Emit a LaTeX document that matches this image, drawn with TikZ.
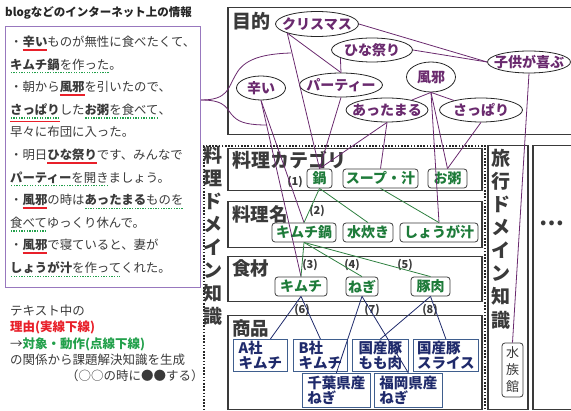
\documentclass[tikz,border=0pt]{standalone}
\usepackage{fontspec}
\setmainfont{Noto Sans CJK JP}
\usetikzlibrary{shapes.geometric,calc}
\definecolor{dk}{HTML}{3A3A3A}
\definecolor{pur}{HTML}{6A2A6E}
\definecolor{lav}{HTML}{9878BE}
\definecolor{grn}{HTML}{1E7B3A}
\definecolor{grnl}{HTML}{2E8040}
\definecolor{navy}{HTML}{1F2A6B}
\definecolor{nbord}{HTML}{3F5E8E}
\definecolor{ured}{HTML}{E8202A}
\definecolor{ugrn}{HTML}{22A04B}
\newcommand\ru[2][2.5pt]{\leavevmode\setbox0\hbox{#2}\rlap{\color{ured}\rule[\dimexpr-#1-1.5pt\relax]{\wd0}{1.5pt}}\box0}
\newcommand\gd[1]{\leavevmode\setbox0\hbox{#1}\rlap{\color{ugrn}\raisebox{-4.3pt}{\hbox to \wd0{\xleaders\hbox to 2.6pt{\hss\rule{1.3pt}{1.3pt}\hss}\hfill}}}\box0}
\begin{document}
\begin{tikzpicture}[x=1pt,y=-1pt,
  frm/.style={draw=dk, line width=1.5pt, inner sep=0pt, anchor=north west},
  ell/.style={ellipse, draw=black!85, line width=0.8pt, inner sep=0pt},
  elab/.style={text=pur, font=\bfseries\fontsize{14}{14}\selectfont, inner sep=0pt},
  gitem/.style={draw=dk, rounded corners=3pt, line width=0.8pt, text=grn, font=\bfseries\fontsize{14}{14}\selectfont, inner xsep=2pt, inner ysep=0pt, minimum height=19pt},
  nitem/.style={draw=nbord, line width=0.8pt, text=navy, font=\bfseries\fontsize{14.5}{15.5}\selectfont, align=left, inner xsep=3pt, inner ysep=0pt, anchor=north west},
  pl/.style={draw=pur, line width=0.8pt},
  gl/.style={draw=grnl, line width=0.8pt},
  nl/.style={draw=navy, line width=0.8pt},
  seclab/.style={anchor=west, text=dk, font=\bfseries\fontsize{19}{19}\selectfont, inner sep=0pt},
  numlab/.style={text=dk, font=\bfseries\fontsize{11}{11}\selectfont, inner sep=0pt},
  bl/.style={anchor=base west, inner sep=0pt, text=dk, font=\fontsize{12.4}{12.4}\selectfont},
  fn/.style={anchor=base west, inner sep=0pt, text=dk, font=\fontsize{12.5}{12.5}\selectfont},
]
\useasboundingbox (0,0) rectangle (571,411);
% ---------- left: blog text ----------
\node[anchor=west, inner sep=0pt, text=black!85, font=\bfseries\fontsize{11.5}{11.5}\selectfont] (title) at (5,13) {blogなどのインターネット上の情報};
\node[draw=lav, line width=1.2pt, anchor=north west, minimum width=195pt, minimum height=261pt, inner sep=0pt] (blogbox) at (5,26) {};
\node[bl] (l1) at (10,46.6) {・\ru{\textbf{辛い}}ものが無性に食べたくて、};
\node[bl] (l2) at (10,69.2) {\gd{\textbf{キムチ鍋}を作った}。};
\node[bl] (l3) at (10,91.8) {・朝から\ru{\textbf{風邪}}を引いたので、};
\node[bl] (l4) at (10,114.4) {\ru[6.5pt]{\gd{\textbf{さっぱり}}}した\gd{\textbf{お粥}を食べて}、};
\node[bl] (l5) at (10,137) {早々に布団に入った。};
\node[bl] (l6) at (10,159.6) {・明日\ru{\textbf{ひな祭り}}です、みんなで};
\node[bl] (l7) at (10,182.2) {\gd{\textbf{パーティー}を開き}ましょう。};
\node[bl] (l8) at (10,204.8) {・\ru{\textbf{風邪}}の時は\gd{\textbf{あったまる}ものを}};
\node[bl] (l9) at (10,227.4) {\gd{食べて}ゆっくり休んで。};
\node[bl] (l10) at (10,250) {・\ru{\textbf{風邪}}で寝ていると、妻が};
\node[bl] (l11) at (10,272.6) {\gd{\textbf{しょうが汁}を作って}くれた。};
% ---------- left: footnote ----------
\node[fn] (f1) at (10,316) {テキスト中の};
\node[fn, text=ured] (f2) at (10,332) {\textbf{理由(実線下線)}};
\node[fn] (f3) at (10,348.3) {→\textcolor{ugrn}{\textbf{対象・動作(点線下線)}}};
\node[fn] (f4) at (10,364.6) {の関係から課題解決知識を生成};
\node[fn] (f5) at (66,381) {（○○の時に●●する）};
% ---------- purpose frame ----------
\node[frm, minimum width=352pt, minimum height=127pt] (mok) at (227,7) {};
\node[seclab] (mokl) at (232,21) {目的};
\node[ell, minimum width=83pt, minimum height=25pt] (kr) at (317,24) {};
\node[elab] at (kr) {クリスマス};
\node[ell, minimum width=81pt, minimum height=24pt] (hina) at (372,50) {};
\node[elab] at (hina) {ひな祭り};
\node[ell, minimum width=83pt, minimum height=24pt] (party) at (341,85) {};
\node[elab] at (party) {パーティー};
\node[ell, minimum width=49pt, minimum height=24pt] (karai) at (261,88) {};
\node[elab] at (karai) {辛い};
\node[ell, minimum width=82pt, minimum height=24pt] (atta) at (387,110) {};
\node[elab] at (atta) {あったまる};
\node[ell, minimum width=49pt, minimum height=30pt] (kaze) at (431,77) {};
\node[elab] at (kaze) {風邪};
\node[ell, minimum width=83pt, minimum height=24pt] (sappari) at (481,110) {};
\node[elab] at (sappari) {さっぱり};
\node[ell, minimum width=83pt, minimum height=22pt] (kodomo) at (529,62) {};
\node[elab] at (kodomo) {子供が喜ぶ};
% ---------- brace ----------
\coordinate (bs) at ($(blogbox.north east)+(0,74)$);
\coordinate (bu) at (291,53);
\coordinate (bd) at (267,125);
\draw[pl] (bs) .. controls (228,100) and (228,88) .. (235,76) .. controls (242,62) and (256,54) .. (bu);
\draw[pl] (bs) .. controls (228,100) and (226,110) .. (234,117) .. controls (240,123) and (250,125) .. (bd);
% ---------- domain frames ----------
\node[frm, draw=black!85, line width=2.4pt, dash pattern=on 1.6pt off 1.6pt, minimum width=281pt, minimum height=270pt] (cook) at (203,145) {};
\node[text=dk, font=\bfseries\fontsize{19}{23}\selectfont, align=center, inner sep=0pt] (cookl) at (213,236) {料\\理\\ド\\メ\\イ\\ン\\知\\識};
\node[frm, minimum width=254pt, minimum height=42pt] (catbox) at (227,148) {};
\node[seclab] (catl) at (232,160) {料理カテゴリ};
\node[frm, minimum width=254pt, minimum height=46pt] (namebox) at (227,201) {};
\node[seclab, font=\bfseries\fontsize{18.5}{18.5}\selectfont] (namel) at (232,214) {料理名};
\node[frm, minimum width=254pt, minimum height=45pt] (ingbox) at (227,256) {};
\node[seclab, font=\bfseries\fontsize{18.5}{18.5}\selectfont] (ingl) at (232,268) {食材};
\node[frm, minimum width=254pt, minimum height=94pt] (prodbox) at (227,315) {};
\node[seclab, font=\bfseries\fontsize{18.5}{18.5}\selectfont] (prodl) at (232,328) {商品};
\node[frm, minimum width=40pt, minimum height=264pt] (travel) at (487,145) {};
\node[text=dk, font=\bfseries\fontsize{19}{23.1}\selectfont, align=center, inner sep=0pt] (travell) at (501,239) {旅\\行\\ド\\メ\\イ\\ン\\知\\識};
\node[frm, minimum width=46pt, minimum height=264pt] (other) at (532,145) {};
\node[text=dk, font=\bfseries\fontsize{22}{22}\selectfont, inner sep=0pt] (dots) at (552,223) {…};
\node[draw=dk, line width=0.8pt, rounded corners=3pt, text=dk, font=\fontsize{13}{17}\selectfont, align=center, minimum width=21pt, minimum height=54pt, inner sep=0pt] (suizoku) at (512.5,370) {水\\族\\館};
% ---------- items ----------
\node[gitem, minimum width=25pt] (nabe) at (319.5,178.5) {鍋};
\node[gitem, minimum width=75pt] (soup) at (380.5,178.5) {スープ・汁};
\node[gitem, minimum width=39pt] (okayu) at (447.5,178.5) {お粥};
\node[numlab] (n1) at (295,182) {(1)};
\node[gitem, minimum width=64pt] (kimchinabe) at (304,232.5) {キムチ鍋};
\node[gitem, minimum width=50pt] (mizutaki) at (368,232.5) {水炊き};
\node[gitem, minimum width=78pt] (shouga) at (439,232.5) {しょうが汁};
\node[numlab] (n2) at (317,211) {(2)};
\node[gitem, minimum width=52pt] (kimchi) at (301,286.5) {キムチ};
\node[gitem, minimum width=30pt] (negi) at (362,286.5) {ねぎ};
\node[gitem, minimum width=39pt] (buta) at (430.5,286.5) {豚肉};
\node[numlab] (n3) at (310,265) {(3)};
\node[numlab] (n4) at (352,265) {(4)};
\node[numlab] (n5) at (405,265) {(5)};
\node[nitem, minimum width=54pt, minimum height=32pt] (pa) at (233,339) {A社\\キムチ};
\node[nitem, minimum width=54pt, minimum height=32pt] (pb) at (293,339) {B社\\キムチ};
\node[nitem, minimum width=56pt, minimum height=32pt] (pmomo) at (352,339) {国産豚\\もも肉};
\node[nitem, minimum width=65pt, minimum height=32pt] (pslice) at (413,339) {国産豚\\スライス};
\node[nitem, minimum width=68pt, minimum height=34pt] (pchiba) at (302,373) {千葉県産\\ねぎ};
\node[nitem, minimum width=68pt, minimum height=34pt] (pfuku) at (374,373) {福岡県産\\ねぎ};
\node[numlab] (n6) at (302,310) {(6)};
\node[numlab] (n7) at (372,310) {(7)};
\node[numlab] (n8) at (430,310) {(8)};
% ---------- purple connectors ----------
\draw[pl] (kr.east) -- (kodomo.west);
\draw[pl] (hina.east) -- (kodomo.west);
\draw[pl] (kr.197) -- (party.north);
\draw[pl] (hina.194) -- (party.north);
\draw[pl] (kr.197) -- (nabe.north);
\draw[pl] (party.south) -- (nabe.north);
\draw[pl] (atta.south) -- (nabe.north);
\draw[pl] (atta.south) -- (soup.north);
\draw[pl] (kaze.south) -- (atta);
\draw[pl] (kaze.south) -- (sappari);
\draw[pl] (kaze.south) -- (okayu.north);
\draw[pl] (kaze.south) -- (shouga.north);
\draw[pl] (sappari.south) -- (okayu.north);
\draw[pl] (karai.south) -- (kimchinabe.north);
\draw[pl] (karai.south) -- (kimchi.north);
\draw[pl] (kodomo.south) -- (suizoku.north);
% ---------- green connectors ----------
\draw[gl] (nabe.south) -- (kimchinabe.north);
\draw[gl] (nabe.south) -- (mizutaki.north);
\draw[gl] (soup.south) -- (shouga.north);
\draw[gl] (kimchinabe.south) -- (kimchi.north);
\draw[gl] (kimchinabe.south) -- (negi.north);
\draw[gl] (kimchinabe.south) -- (buta.north);
% ---------- navy connectors ----------
\draw[nl] (kimchi.south) -- ($(pa.north)+(10,0)$);
\draw[nl] (kimchi.south) -- (pb.north);
\draw[nl] (negi.south) -- (pchiba.north);
\draw[nl] (negi.south) -- (pfuku.north);
\draw[nl] (buta.south) -- (pmomo.north);
\draw[nl] (buta.south) -- (pslice.north);
\end{tikzpicture}
\end{document}
